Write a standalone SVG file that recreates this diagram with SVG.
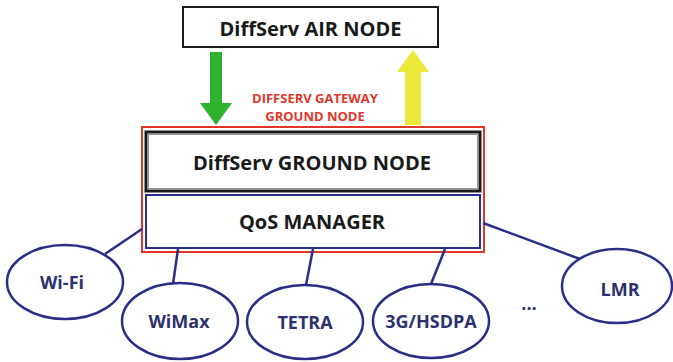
<svg xmlns="http://www.w3.org/2000/svg" width="673" height="362" viewBox="0 0 673 362">
<style>
.lbl{font-family:"Open Sans","Liberation Sans",sans-serif;font-weight:bold;text-anchor:middle;dominant-baseline:central}
.blk{fill:#1a1a1a;font-size:20px}
.nav{fill:#2e3170;font-size:18px}
.red{fill:#e2362b;font-size:13px}
.ell{fill:#fff;stroke:#2b2e86;stroke-width:2.5}
.con{stroke:#2b2e86;stroke-width:2.5;fill:none}
</style>
<rect width="673" height="362" fill="#fff"/>
<g id="air-node">
<rect x="183" y="7" width="255" height="40" fill="#fff" stroke="#1a1a1a" stroke-width="2"/>
<text class="lbl blk" x="310.5" y="28">DiffServ AIR NODE</text>
</g>
<g id="gateway">
<rect x="142" y="127" width="342" height="125" fill="#fff" stroke="#e2362b" stroke-width="2"/>
<text class="lbl red" x="315" y="98">DIFFSERV GATEWAY</text>
<text class="lbl red" x="315" y="116">GROUND NODE</text>
</g>
<g id="ground-node">
<rect x="146" y="132" width="334" height="59" fill="#fff" stroke="#1a1a1a" stroke-width="3"/>
<rect x="148.5" y="134.5" width="329" height="54" fill="none" stroke="#999" stroke-width="1"/>
<text class="lbl blk" x="312" y="162">DiffServ GROUND NODE</text>
</g>
<g id="qos-manager">
<rect x="146" y="195" width="334" height="53" fill="#fff" stroke="#2b2e86" stroke-width="2"/>
<text class="lbl blk" x="312" y="221">QoS MANAGER</text>
</g>
<g id="connectors">
<polygon points="210,52 222,52 222,103 232,103 216,125 200,103 210,103" fill="#2fb32f"/>
<polygon points="413,50 429,72 421,72 421,125 405,125 405,72 397,72" fill="#ece83a"/>
<line class="con" x1="105" y1="254" x2="142" y2="229"/>
<line class="con" x1="178" y1="249" x2="173" y2="284"/>
<line class="con" x1="313" y1="249" x2="306" y2="285"/>
<line class="con" x1="445" y1="249" x2="431" y2="284"/>
<line class="con" x1="483" y1="223" x2="580" y2="259"/>
</g>
<g id="wifi">
<ellipse class="ell" cx="65" cy="282" rx="58" ry="37"/>
<text class="lbl nav" x="62" y="282">Wi-Fi</text>
</g>
<g id="wimax">
<ellipse class="ell" cx="180" cy="321" rx="58" ry="38"/>
<text class="lbl nav" x="179" y="321">WiMax</text>
</g>
<g id="tetra">
<ellipse class="ell" cx="305" cy="322" rx="58" ry="37"/>
<text class="lbl nav" x="305" y="322">TETRA</text>
</g>
<g id="hsdpa">
<ellipse class="ell" cx="431" cy="321" rx="58" ry="37"/>
<text class="lbl nav" x="431" y="321">3G/HSDPA</text>
</g>
<g id="dots">
<text class="lbl nav" x="529" y="303">...</text>
</g>
<g id="lmr">
<ellipse class="ell" cx="617" cy="286" rx="55" ry="37"/>
<text class="lbl nav" x="620" y="289">LMR</text>
</g>
</svg>
